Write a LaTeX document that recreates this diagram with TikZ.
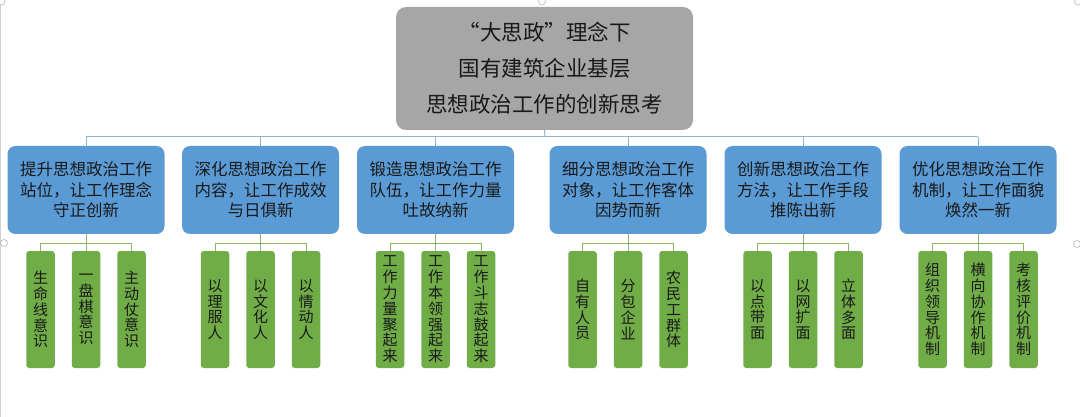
\documentclass[tikz,border=0pt]{standalone}
\usepackage{fontspec}
\usetikzlibrary{calc}
\setmainfont{Noto Sans CJK SC}
\definecolor{topgray}{RGB}{166,166,166}
\definecolor{boxblue}{RGB}{91,155,213}
\definecolor{boxgreen}{RGB}{112,173,71}
\definecolor{lineblue}{RGB}{140,180,215}
\definecolor{linegreen}{RGB}{140,180,100}
\definecolor{txt}{RGB}{25,25,25}
\begin{document}
\begin{tikzpicture}[x=1pt,y=-1pt,
  topbox/.style={fill=topgray, rounded corners=10pt, minimum width=297pt, minimum height=123pt, align=center, inner sep=0pt, text=txt, font=\fontsize{21.5}{36}\selectfont},
  bluebox/.style={fill=boxblue, rounded corners=8pt, minimum width=157pt, minimum height=88pt, align=center, inner sep=0pt, text=txt, font=\fontsize{16.5}{20.5}\selectfont},
  greenbox/.style={fill=boxgreen, rounded corners=3pt, minimum width=28.5pt, minimum height=117pt, align=center, inner sep=0pt, text width=28pt, text=txt, font=\fontsize{15}{15.8}\selectfont},
  blueline/.style={draw=lineblue, line width=1pt},
  greenline/.style={draw=linegreen, line width=1pt},
  handle/.style={draw=gray!55, fill=white, line width=0.6pt}]
\useasboundingbox (0,0) rectangle (1080,417);
\fill[white] (0,0) rectangle (1080,417);
\draw[gray!35, line width=0.8pt] (0.5,0) -- (0.5,417);

\node[topbox] (top) at (544.5,68.5) {“大思政”理念下\\国有建筑企业基层\\思想政治工作的创新思考};

\node[bluebox] (b1) at (86,190) {提升思想政治工作\\站位，让工作理念\\守正创新};
\node[bluebox] (b2) at (260.5,190) {深化思想政治工作\\内容，让工作成效\\与日俱新};
\node[bluebox] (b3) at (435.5,190) {锻造思想政治工作\\队伍，让工作力量\\吐故纳新};
\node[bluebox] (b4) at (628,190) {细分思想政治工作\\对象，让工作客体\\因势而新};
\node[bluebox] (b5) at (803,190) {创新思想政治工作\\方法，让工作手段\\推陈出新};
\node[bluebox] (b6) at (978,190) {优化思想政治工作\\机制，让工作面貌\\焕然一新};

\coordinate (bus) at (545,137);
\draw[blueline] (top.south) -- (bus);
\draw[blueline] (b1.north |- bus) -- (b6.north |- bus);
\foreach \i in {1,...,6} {\draw[blueline] (b\i.north) -- (b\i.north |- bus);}

\foreach \i/\a/\b/\c in {
  1/生\\命\\线\\意\\识/一\\盘\\棋\\意\\识/主\\动\\仗\\意\\识,
  2/以\\理\\服\\人/以\\文\\化\\人/以\\情\\动\\人,
  3/工\\作\\力\\量\\聚\\起\\来/工\\作\\本\\领\\强\\起\\来/工\\作\\斗\\志\\鼓\\起\\来,
  4/自\\有\\人\\员/分\\包\\企\\业/农\\民\\工\\群\\体,
  5/以\\点\\带\\面/以\\网\\扩\\面/立\\体\\多\\面,
  6/组\\织\\领\\导\\机\\制/横\\向\\协\\作\\机\\制/考\\核\\评\\价\\机\\制} {
  \node[greenbox] (g\i a) at ($(b\i.center)+(-45.5,119.5)$) {\a};
  \node[greenbox] (g\i b) at ($(b\i.center)+(0,119.5)$) {\b};
  \node[greenbox] (g\i c) at ($(b\i.center)+(45.5,119.5)$) {\c};
  \coordinate (j\i) at ($(b\i.south)+(0,9)$);
  \draw[greenline] (b\i.south) -- (j\i);
  \draw[greenline] (g\i a.north) |- (j\i) -| (g\i c.north);
  \draw[greenline] (g\i b.north) -- (j\i);
}

\draw[handle] (1.5,1.5) circle (3.5);
\draw[handle] (542,1.5) circle (3.5);
\draw[handle] (1078,1.5) circle (3.5);
\draw[handle] (4,243) circle (3.5);
\draw[handle] (1077,244) circle (3.5);
\end{tikzpicture}
\end{document}
